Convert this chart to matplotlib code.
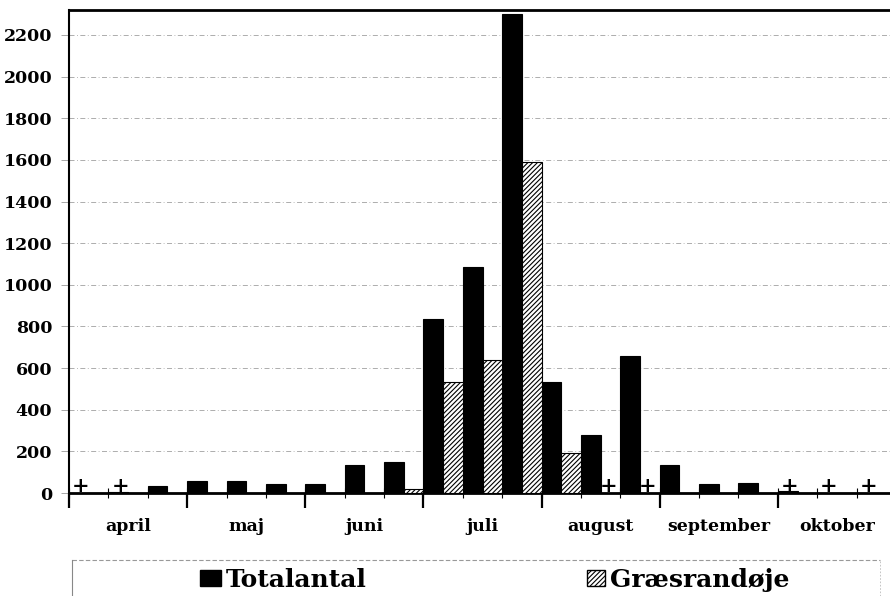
import matplotlib
matplotlib.use("Agg")
import matplotlib.pyplot as plt
from matplotlib.patches import Patch
from matplotlib.lines import Line2D
import numpy as np

# ---- data (three periods per month) ----
months = ["april", "maj", "juni", "juli", "august", "september", "oktober"]
totalantal = [0, 6, 35, 60, 60, 43, 45, 136, 149, 834, 1085, 2300,
              531, 278, 659, 135, 42, 48, 8, 0, 0]
graesrandoje = [0, 0, 0, 0, 0, 0, 0, 0, 20, 534, 638, 1589,
                190, 0, 0, 0, 0, 0, 0, 0, 0]
plus_total = [0, 1, 18, 19, 20]      # "+" = present in small numbers
plus_graes = [13, 14]
yticks = list(range(0, 2201, 200))

plt.rcParams['hatch.linewidth'] = 0.8
FONT = ['DejaVu Serif']

fig = plt.figure(figsize=(8.9, 5.96), dpi=100)
ax = fig.add_axes([69/890, 1-493/596, (896-69)/890, (493-10)/596])

n = len(totalantal)
x = np.arange(n)
ax.bar(x + 0.25, totalantal, width=0.5, color='black', edgecolor='black',
       linewidth=0.8, zorder=3)
ax.bar(x + 0.75, graesrandoje, width=0.5, color='white', edgecolor='black',
       hatch='///////', linewidth=0.8, zorder=3)

for i in plus_total:
    ax.text(i + 0.3, 32, '+', ha='center', va='center', fontsize=15,
            fontweight='bold', family=FONT, zorder=4)
for i in plus_graes:
    ax.text(i + 0.7, 32, '+', ha='center', va='center', fontsize=15,
            fontweight='bold', family=FONT, zorder=4)

ax.set_xlim(0, n)
ax.set_ylim(0, 2320)

# y axis
ax.set_yticks(yticks)
ax.set_yticklabels([str(v) for v in yticks], fontsize=12.5, fontweight='bold',
                   family=FONT)
ax.tick_params(axis='y', length=6, width=0.6, color='#999999', pad=6)
ax.yaxis.grid(True, color='#a0a0a0', linewidth=0.6,
              linestyle=(0, (6, 3, 1, 3)), zorder=0)

# x axis: month labels centred, minor ticks at periods
centers = [3*k + 1.5 for k in range(len(months))]
ax.set_xticks(centers)
ax.set_xticklabels(months, fontsize=12.5, fontweight='bold', family=FONT)
ax.tick_params(axis='x', which='major', length=0, pad=18)
ax.set_xticks(np.arange(0, n + 1), minor=True)
ax.tick_params(axis='x', which='minor', direction='inout', length=7, width=0.8)

sec = ax.secondary_xaxis('bottom')
sec.set_xticks(np.arange(0, n + 1, 3))
sec.set_xticklabels([])
sec.tick_params(axis='x', direction='out', length=11, width=1.6)
sec.spines['bottom'].set_visible(False)

for s in ['top', 'bottom', 'left']:
    ax.spines[s].set_color('black')
ax.spines['top'].set_linewidth(2.0)
ax.spines['bottom'].set_linewidth(2.0)
ax.spines['left'].set_linewidth(1.5)
ax.spines['right'].set_visible(False)

# legend box
fig.add_artist(Line2D([72/890, 880/890], [1-560/596]*2, transform=fig.transFigure,
                      color='#999999', lw=0.8, linestyle=(0, (4, 2))))
fig.add_artist(Line2D([72/890]*2, [0, 1-560/596], transform=fig.transFigure,
                      color='#888888', lw=0.8))
fig.add_artist(Line2D([880/890]*2, [0, 1-560/596], transform=fig.transFigure,
                      color='#bbbbbb', lw=0.6, linestyle=(0, (2, 2))))

lp = dict(family=FONT, weight='bold', size=18)
leg1 = fig.legend([Patch(facecolor='black', edgecolor='black')], ['Totalantal'],
                  loc='center left', bbox_to_anchor=(200/890, 1-580/596),
                  frameon=False, prop=lp, borderpad=0, borderaxespad=0,
                  handlelength=0.84, handleheight=0.64, handletextpad=0.2)
leg2 = fig.legend([Patch(facecolor='white', edgecolor='black', hatch='///////')],
                  ['Græsrandøje'],
                  loc='center left', bbox_to_anchor=(587/890, 1-580/596),
                  frameon=False, prop=lp, borderpad=0, borderaxespad=0,
                  handlelength=0.72, handleheight=0.64, handletextpad=0.2)

fig.savefig('out.png', dpi=100)
